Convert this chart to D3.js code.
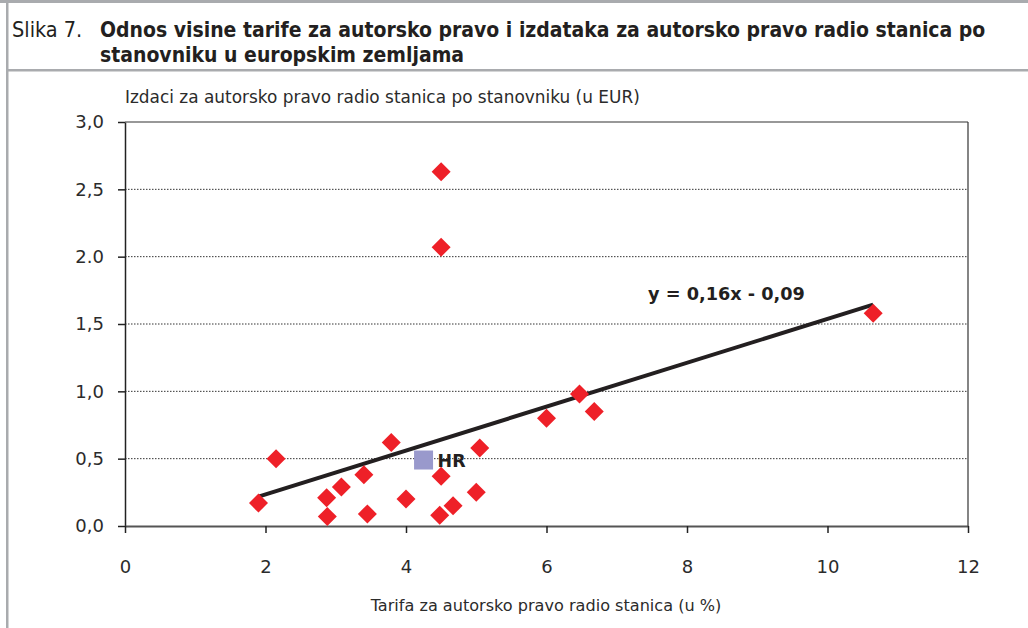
<!DOCTYPE html>
<html>
<head>
<meta charset="utf-8">
<script src="https://cdn.jsdelivr.net/npm/d3@7"></script>
<style>
  html, body { margin: 0; padding: 0; background: #fff; }
  svg { display: block; }
</style>
</head>
<body>
<svg id="chart" width="1028" height="628"></svg>
<script>
// ---- data ----
const titlePrefix = "Slika 7.";
const titleLines = [
  "Odnos visine tarife za autorsko pravo i izdataka za autorsko pravo radio stanica po",
  "stanovniku u europskim zemljama"
];
const yAxisTitle = "Izdaci za autorsko pravo radio stanica po stanovniku (u EUR)";
const xAxisTitle = "Tarifa za autorsko pravo radio stanica (u %)";

const tariffPct = [1.9, 2.15, 2.87, 2.88, 3.08, 3.4, 3.45, 3.79, 4.0, 4.5, 4.48, 4.67, 5.0, 5.05, 6.0, 6.47, 6.68, 10.65, 4.5, 4.5];
const spendEur  = [0.17, 0.50, 0.21, 0.07, 0.29, 0.38, 0.09, 0.62, 0.20, 0.37, 0.08, 0.15, 0.25, 0.58, 0.80, 0.98, 0.85, 1.58, 2.63, 2.07];

const hrTariff = [4.25];
const hrSpend = [0.49];
const hrLabel = ["HR"];

const trendSlope = 0.163;
const trendIntercept = -0.092;
const trendRange = [1.9, 10.65];
const trendLabel = "y = 0,16x - 0,09";

const xTicks = [0, 2, 4, 6, 8, 10, 12];
const xTickLabels = ["0", "2", "4", "6", "8", "10", "12"];
const yTicks = [0, 0.5, 1.0, 1.5, 2.0, 2.5, 3.0];
const yTickLabels = ["0,0", "0,5", "1,0", "1,5", "2.0", "2,5", "3,0"];

// ---- layout ----
const svg = d3.select("#chart");
const W = 1028, H = 628;
const plot = { left: 125, right: 968, top: 122, bottom: 526 };
const axisFont = "'DejaVu Sans', 'Liberation Sans', sans-serif";
const narrowFont = "'Liberation Sans Narrow', 'Arial Narrow', 'DejaVu Sans Condensed', sans-serif";
const ink = "#231f20";

function fitWidth(sel, target) {
  const fs = +sel.attr("font-size");
  const len = sel.node().getComputedTextLength();
  if (len > 0) sel.attr("font-size", fs * target / len);
  return +sel.attr("font-size");
}

// frame
svg.append("rect").attr("x", 0).attr("y", 0).attr("width", W).attr("height", 3).attr("fill", "#a9abae");
svg.append("rect").attr("x", 6).attr("y", 0).attr("width", 2.5).attr("height", H).attr("fill", "#a9abae");
svg.append("rect").attr("x", 6).attr("y", 69).attr("width", W - 6).attr("height", 2.5).attr("fill", "#a9abae");

// title
const tb1 = svg.append("text").attr("x", 100).attr("y", 37)
  .attr("font-family", narrowFont).attr("font-size", 21).attr("font-weight", "bold").attr("fill", ink)
  .text(titleLines[0]);
const fsTitle = fitWidth(tb1, 886);
svg.append("text").attr("x", 100).attr("y", 62)
  .attr("font-family", narrowFont).attr("font-size", fsTitle).attr("font-weight", "bold").attr("fill", ink)
  .text(titleLines[1]);
svg.append("text").attr("x", 12).attr("y", 37)
  .attr("font-family", narrowFont).attr("font-size", fsTitle + 0.5).attr("fill", ink)
  .text(titlePrefix);

// scales
const x = d3.scaleLinear().domain([0, 12]).range([plot.left, plot.right]);
const y = d3.scaleLinear().domain([0, 3]).range([plot.bottom, plot.top]);

// gridlines
svg.append("g").selectAll("line").data(yTicks.filter(d => d > 0 && d < 3)).join("line")
  .attr("x1", plot.left).attr("x2", plot.right)
  .attr("y1", d => y(d)).attr("y2", d => y(d))
  .attr("stroke", "#333").attr("stroke-width", 1).attr("stroke-dasharray", "1.5,1.5");

// frame top/right
svg.append("line").attr("x1", plot.left).attr("x2", plot.right).attr("y1", plot.top).attr("y2", plot.top)
  .attr("stroke", "#333").attr("stroke-width", 1.2);
svg.append("line").attr("x1", plot.right).attr("x2", plot.right).attr("y1", plot.top).attr("y2", plot.bottom)
  .attr("stroke", "#333").attr("stroke-width", 1.2);

// axes
const yAxis = svg.append("g").attr("transform", `translate(${plot.left},0)`)
  .call(d3.axisLeft(y).tickValues(yTicks).tickFormat((d, i) => yTickLabels[i]).tickSize(7).tickPadding(14).tickSizeOuter(0));
yAxis.select(".domain").attr("stroke", "#222").attr("stroke-width", 1.5);
yAxis.selectAll(".tick line").attr("stroke", "#222").attr("stroke-width", 1.5);
yAxis.selectAll(".tick text").attr("font-family", axisFont).attr("font-size", 18).attr("fill", "#2b2b2b");

const xAxis = svg.append("g").attr("transform", `translate(0,${plot.bottom})`)
  .call(d3.axisBottom(x).tickValues(xTicks).tickFormat((d, i) => xTickLabels[i]).tickSize(7).tickPadding(27).tickSizeOuter(0));
xAxis.select(".domain").attr("stroke", "#555").attr("stroke-width", 2.2);
xAxis.selectAll(".tick line").attr("stroke", "#222").attr("stroke-width", 1.5);
xAxis.selectAll(".tick text").attr("font-family", axisFont).attr("font-size", 18).attr("fill", "#2b2b2b");

// axis titles
const yt = svg.append("text").attr("x", 125).attr("y", 103)
  .attr("font-family", axisFont).attr("font-size", 16).attr("fill", "#2b2b2b")
  .text(yAxisTitle);
fitWidth(yt, 515);
const xt = svg.append("text").attr("x", 546).attr("y", 611).attr("text-anchor", "middle")
  .attr("font-family", axisFont).attr("font-size", 16).attr("fill", "#2b2b2b")
  .text(xAxisTitle);
fitWidth(xt, 351);

// trend line
svg.append("line")
  .attr("x1", x(trendRange[0])).attr("y1", y(trendSlope * trendRange[0] + trendIntercept))
  .attr("x2", x(trendRange[1])).attr("y2", y(trendSlope * trendRange[1] + trendIntercept))
  .attr("stroke", ink).attr("stroke-width", 4);

// points
const pts = tariffPct.map((v, i) => ({ x: v, y: spendEur[i] }));
svg.append("g").selectAll("path").data(pts).join("path")
  .attr("transform", d => `translate(${x(d.x)},${y(d.y)})`)
  .attr("d", "M0,-9.5L9.5,0L0,9.5L-9.5,0Z")
  .attr("fill", "#ee2028");

// HR
const hr = hrTariff.map((v, i) => ({ x: v, y: hrSpend[i], label: hrLabel[i] }));
svg.append("g").selectAll("rect").data(hr).join("rect")
  .attr("x", d => x(d.x) - 9.5).attr("y", d => y(d.y) - 9.5)
  .attr("width", 19).attr("height", 19).attr("fill", "#9999cc");
const hrT = svg.append("g").selectAll("text").data(hr).join("text")
  .attr("x", d => x(d.x) + 14).attr("y", d => y(d.y) + 7)
  .attr("font-family", axisFont).attr("font-size", 18).attr("font-weight", "bold").attr("fill", ink)
  .text(d => d.label);
fitWidth(hrT, 28);

// equation label
const eq = svg.append("text").attr("x", 648).attr("y", 300)
  .attr("font-family", axisFont).attr("font-size", 18).attr("font-weight", "bold").attr("fill", ink)
  .text(trendLabel);
fitWidth(eq, 157);
</script>
</body>
</html>
